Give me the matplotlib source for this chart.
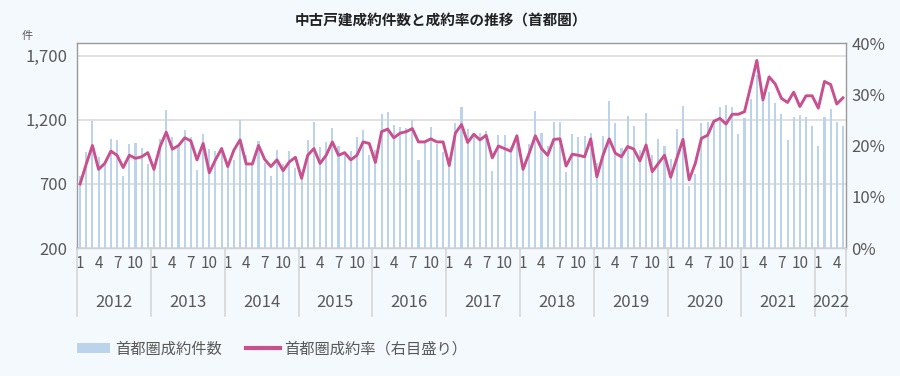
import numpy as np
import matplotlib
matplotlib.use("Agg")
import matplotlib.pyplot as plt
from matplotlib.patches import Patch
from matplotlib.lines import Line2D
from matplotlib.ticker import FuncFormatter

plt.rcParams['font.family'] = ['Noto Sans CJK JP', 'DejaVu Sans']

# ── Données ──────────────────────────────────────────────────────────────────
YEARS = [2012, 2013, 2014, 2015, 2016, 2017, 2018, 2019, 2020, 2021, 2022]

counts = (
    [760, 947, 1195, 908, 861, 1054, 1044, 763, 1012, 1020, 981, 854]       # 2012
    + [840, 1049, 1281, 1070, 986, 1122, 1070, 809, 1088, 971, 958, 986]    # 2013
    + [841, 888, 1200, 927, 861, 1036, 861, 763, 966, 856, 955, 825]        # 2014
    + [783, 1044, 1187, 986, 1031, 1140, 997, 927, 958, 1065, 1122, 927]    # 2015
    + [966, 1247, 1265, 1161, 1143, 1135, 1200, 888, 1031, 1148, 1012, 953] # 2016
    + [900, 1174, 1304, 1127, 1096, 1101, 1114, 802, 1083, 1083, 992, 1057] # 2017
    + [820, 1012, 1273, 1096, 1000, 1187, 1187, 796, 1088, 1065, 1075, 1096]# 2018
    + [860, 1078, 1348, 1174, 979, 1231, 1156, 966, 1252, 927, 1052, 997]   # 2019
    + [895, 1127, 1309, 684, 778, 1174, 1187, 1205, 1304, 1317, 1304, 1091] # 2020
    + [1213, 1361, 1550, 1356, 1414, 1330, 1247, 1044, 1221, 1239, 1226, 1153]  # 2021
    + [997, 1221, 1286, 1187, 1153]                                         # 2022
)

rates = (
    [12.5, 16.4, 20.0, 15.35, 16.5, 18.9, 18.1, 15.7, 18.1, 17.5, 17.8, 18.6]
    + [15.35, 19.8, 22.6, 19.3, 20.0, 21.5, 20.9, 17.2, 20.4, 14.7, 17.2, 19.4]
    + [15.9, 19.1, 21.1, 16.4, 16.4, 20.0, 17.3, 15.9, 17.2, 15.1, 16.8, 17.7]
    + [13.6, 18.1, 19.4, 16.5, 18.1, 20.7, 18.1, 18.6, 17.2, 18.1, 20.7, 20.4]
    + [16.7, 22.7, 23.2, 21.5, 22.4, 22.7, 23.3, 20.7, 20.7, 21.3, 20.7, 20.7]
    + [16.1, 22.4, 24.1, 20.6, 22.2, 21.1, 22.0, 17.6, 19.9, 19.4, 18.9, 21.9]
    + [15.35, 18.5, 21.9, 19.4, 18.1, 21.2, 21.3, 16.0, 18.3, 18.1, 17.8, 21.3]
    + [13.9, 18.1, 21.3, 18.5, 17.8, 19.8, 19.3, 17.0, 20.1, 14.9, 16.5, 18.1]
    + [13.8, 17.5, 21.2, 13.3, 16.5, 21.4, 22.0, 24.7, 25.3, 24.2, 26.1, 26.1]
    + [26.6, 31.5, 36.6, 28.9, 33.4, 32.0, 29.2, 28.4, 30.4, 27.6, 29.7, 29.7]
    + [27.3, 32.5, 31.9, 28.1, 29.3]
)

TITLE = "中古戸建成約件数と成約率の推移（首都圏）"
LBL_BAR = "首都圏成約件数"
LBL_LINE = "首都圏成約率（右目盛り）"

BAR_COLOR = '#bcd3ec'
LINE_COLOR = '#c9508f'
TXT = '#595959'
BG = '#f3f9fd'

n = len(counts)
x = np.arange(n)
months = [(i % 12) + 1 for i in range(n)]

# ── Figure ───────────────────────────────────────────────────────────────────
fig = plt.figure(figsize=(9, 3.76), dpi=100, facecolor=BG)
ax = fig.add_axes([0.0856, 0.3404, 0.8544, 0.5452])
ax.set_facecolor('white')

ax.bar(x, counts, width=0.34, color=BAR_COLOR, zorder=2)
ax.set_xlim(-0.5, n - 0.5)
ax.set_ylim(200, 1800)
ax.set_yticks([200, 700, 1200, 1700])
ax.yaxis.set_major_formatter(FuncFormatter(lambda v, p: f"{int(v):,}"))
ax.grid(axis='y', color='#dcdcdc', linewidth=1.2, zorder=0)
ax.set_axisbelow(True)
ax.tick_params(axis='y', length=0, pad=7, labelsize=12, labelcolor=TXT)

tick_pos = [i for i in range(n) if months[i] in (1, 4, 7, 10)]
ax.set_xticks(tick_pos)
ax.set_xticklabels([str(months[i]) for i in tick_pos])
ax.tick_params(axis='x', length=0, pad=5, labelsize=11, labelcolor=TXT)

for s in ax.spines.values():
    s.set_color('#9a9a9a')
    s.set_linewidth(1.0)
ax.spines['bottom'].set_color('#d0d0d0')

# Ligne de taux (axe droit)
ax2 = ax.twinx()
ax2.plot(x, rates, color=LINE_COLOR, linewidth=2.1, zorder=3)
ax2.set_ylim(0, 40)
ax2.set_yticks([0, 10, 20, 30, 40])
ax2.yaxis.set_major_formatter(FuncFormatter(lambda v, p: f"{int(v)}%"))
ax2.tick_params(axis='y', length=0, pad=4, labelsize=12, labelcolor=TXT)
for s in ax2.spines.values():
    s.set_visible(False)

# ── Axe catégoriel à deux niveaux (mois / année) ─────────────────────────────
trans = ax.get_xaxis_transform()
bounds = [12 * k - 0.5 for k in range(len(YEARS))] + [n - 0.5]
for b in bounds:
    ax.plot([b, b], [0, -0.33], transform=trans, color='#d6d6d6',
            linewidth=1.2, clip_on=False)
for k, yr in enumerate(YEARS):
    lo = 12 * k
    hi = min(12 * (k + 1), n) - 1
    ax.text((lo + hi) / 2, -0.265, str(yr), transform=trans, ha='center',
            va='center', fontsize=12, color=TXT)

# ── Titre et libellés ────────────────────────────────────────────────────────
fig.text(0.49, 0.946, TITLE, ha='center', va='center', fontsize=10.5,
         fontweight='bold', color='#222222')
fig.text(0.030, 0.905, "件", ha='center', va='center', fontsize=8,
         color=TXT)

handles = [Patch(facecolor=BAR_COLOR, edgecolor='none'),
           Line2D([0], [0], color=LINE_COLOR, linewidth=3)]
fig.legend(handles, [LBL_BAR, LBL_LINE], loc='center',
           bbox_to_anchor=(0.302, 0.072), ncol=2, frameon=False,
           fontsize=11, handlelength=2.2, handleheight=0.55,
           handletextpad=0.3, columnspacing=1.6, labelcolor=TXT)

fig.savefig("out.png", dpi=100, facecolor=BG)
